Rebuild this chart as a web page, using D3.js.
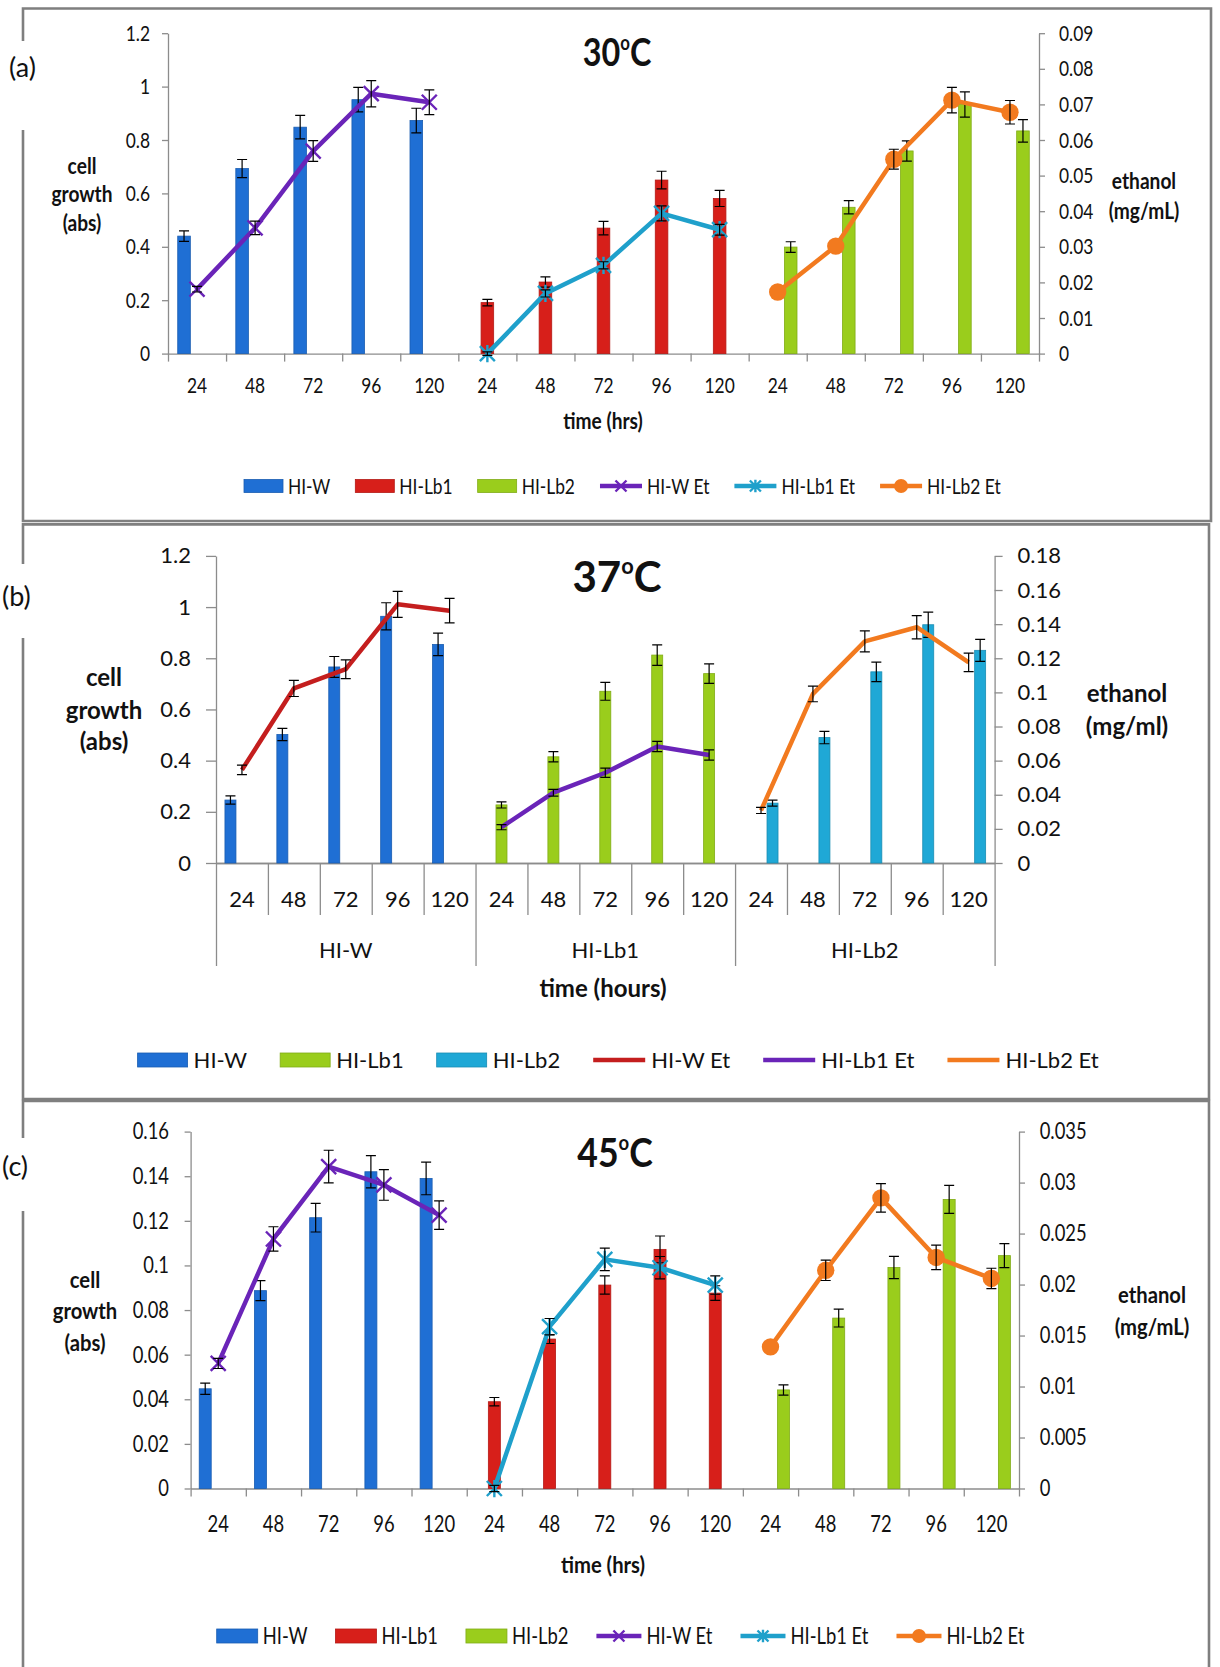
<!DOCTYPE html>
<html>
<head>
<meta charset="utf-8">
<title>Cell growth and ethanol at 30, 37 and 45 C</title>
<style>
  body { margin: 0; background: #fff; }
  svg { display: block; background: #fff; }
  .axis path, .axis line { stroke: #8c8c8c; stroke-width: 1.3; }
  .axis text { fill: #111; }
  .err { stroke: #000; stroke-width: 1.2; fill: none; }
</style>
</head>
<body>
<svg></svg>
<script src="https://d3js.org/d3.v7.min.js"></script>
<script>
const width = 1220, height = 1667;

// categories shared by the three panels
const hours = ["24", "48", "72", "96", "120"];
const strains = ["HI-W", "HI-Lb1", "HI-Lb2"];

// (a) 30 C : cell growth (abs) bars, ethanol (mg/mL) lines
const a30Bars   = [[0.44, 0.693, 0.848, 0.951, 0.873], [0.191, 0.268, 0.47, 0.65, 0.581], [0.399, 0.548, 0.759, 0.933, 0.834]];
const a30BarErr = [[0.02, 0.034, 0.044, 0.046, 0.046], [0.012, 0.019, 0.025, 0.033, 0.03], [0.02, 0.025, 0.038, 0.047, 0.042]];
const a30Et     = [[0.0181, 0.0353, 0.0569, 0.073, 0.0706], [0, 0.0169, 0.0248, 0.0394, 0.0348], [0.0173, 0.0302, 0.0546, 0.0712, 0.0678]];
const a30EtErr  = [[0.0008, 0.0019, 0.0029, 0.0037, 0.0035], [0.0005, 0.001, 0.001, 0.0021, 0.0015], [0, 0, 0.0028, 0.0036, 0.0033]];
const a30LeftTicks = [0, 0.2, 0.4, 0.6, 0.8, 1, 1.2];
const a30LeftLabels = ["0", "0.2", "0.4", "0.6", "0.8", "1", "1.2"];
const a30RightTicks = [0, 0.01, 0.02, 0.03, 0.04, 0.05, 0.06, 0.07, 0.08, 0.09];
const a30RightLabels = ["0", "0.01", "0.02", "0.03", "0.04", "0.05", "0.06", "0.07", "0.08", "0.09"];

// (b) 37 C
const b37Bars   = [[0.246, 0.502, 0.766, 0.964, 0.854], [0.227, 0.415, 0.671, 0.8125, 0.74], [0.234, 0.49, 0.747, 0.931, 0.831]];
const b37BarErr = [[0.016, 0.024, 0.041, 0.053, 0.044], [0.012, 0.02, 0.035, 0.04, 0.038], [0.012, 0.024, 0.038, 0.049, 0.043]];
const b37Et     = [[0.0546, 0.1023, 0.1136, 0.1516, 0.1479], [0.021, 0.0412, 0.0529, 0.0683, 0.0633], [0.0308, 0.0991, 0.1299, 0.1382, 0.1176]];
const b37EtErr  = [[0.0028, 0.0047, 0.0055, 0.0076, 0.0072], [0.0015, 0.002, 0.0027, 0.003, 0.003], [0.0018, 0.0046, 0.0061, 0.0068, 0.0054]];
const b37LeftTicks = [0, 0.2, 0.4, 0.6, 0.8, 1, 1.2];
const b37LeftLabels = ["0", "0.2", "0.4", "0.6", "0.8", "1", "1.2"];
const b37RightTicks = [0, 0.02, 0.04, 0.06, 0.08, 0.1, 0.12, 0.14, 0.16, 0.18];
const b37RightLabels = ["0", "0.02", "0.04", "0.06", "0.08", "0.1", "0.12", "0.14", "0.16", "0.18"];

// (c) 45 C
const c45Bars   = [[0.0447, 0.0887, 0.1214, 0.142, 0.139], [0.0389, 0.067, 0.0912, 0.1072, 0.0876], [0.0442, 0.0764, 0.0991, 0.1296, 0.1044]];
const c45BarErr = [[0.0025, 0.0045, 0.0064, 0.0072, 0.0073], [0.0019, 0.002, 0.0041, 0.006, 0.0033], [0.0023, 0.004, 0.005, 0.0063, 0.0054]];
const c45Et     = [[0.01227, 0.02447, 0.03157, 0.02977, 0.02681], [0, 0.01587, 0.02247, 0.02165, 0.01995], [0.01389, 0.0214, 0.0285, 0.02266, 0.0206]];
const c45EtErr  = [[0.0005, 0.0012, 0.0016, 0.0015, 0.0014], [0.0003, 0.0008, 0.0011, 0.0011, 0.0009], [0, 0.001, 0.0014, 0.0012, 0.001]];
const c45LeftTicks = [0, 0.02, 0.04, 0.06, 0.08, 0.1, 0.12, 0.14, 0.16];
const c45LeftLabels = ["0", "0.02", "0.04", "0.06", "0.08", "0.1", "0.12", "0.14", "0.16"];
const c45RightTicks = [0, 0.005, 0.01, 0.015, 0.02, 0.025, 0.03, 0.035];
const c45RightLabels = ["0", "0.005", "0.01", "0.015", "0.02", "0.025", "0.03", "0.035"];

// colours
const blue = "#1f6fd4", red = "#d71f1a", green = "#9acd1c", cyanBar = "#1fa8d6";
const purple = "#6a24b8", cyanLine = "#1fa0cb", orange = "#f27a1f", redLine = "#c41e1e";

const font = "Lato, 'Open Sans', sans-serif";

const svg = d3.select("svg").attr("width", width).attr("height", height);

const panels = [
    {
        label: "(a)", temp: "30", bars: a30Bars, barErr: a30BarErr, et: a30Et, etErr: a30EtErr,
        leftMax: 1.2, leftTicks: a30LeftTicks, leftLabels: a30LeftLabels,
        rightMax: 0.09, rightTicks: a30RightTicks, rightLabels: a30RightLabels,
        barColors: [blue, red, green], lineColors: [purple, cyanLine, orange], markers: ["x", "star", "circle"],
        fs: 22, titleFs: 39, axisFs: 22, sq: 0.79, sqBold: 0.87, sqTitle: 0.83,
        left: 168, right: 1039, top: 33.2, bottom: 353.6, slot: 13, barW: 12.6,
        tickL: 6, padL: 12, tickR: 6, padR: 14, xTick: 8,
        xLabelY: 385, xTitle: "time (hrs)", xTitleX: 603, xTitleY: 421,
        titleX: 617, titleY: 66,
        yTitleX: 82, yTitleY: [166, 194.5, 223], rTitle: ["ethanol", "(mg/mL)"], rTitleX: 1144, rTitleY: [181, 211],
        legY: 486, legX: 244, legRectW: 39, legRectH: 13, legLineW: 42, legGap: 5, legItemGap: 25, legFs: 22,
        box: [23, 8.5, 1211, 521], gap: [41, 130], labelX: 9, labelY: 68
    },
    {
        label: "(b)", temp: "37", bars: b37Bars, barErr: b37BarErr, et: b37Et, etErr: b37EtErr,
        leftMax: 1.2, leftTicks: b37LeftTicks, leftLabels: b37LeftLabels,
        rightMax: 0.18, rightTicks: b37RightTicks, rightLabels: b37RightLabels,
        barColors: [blue, green, cyanBar], lineColors: [redLine, purple, orange], markers: [null, null, null],
        fs: 22, titleFs: 42, axisFs: 24, sq: 1, sqBold: 1, sqTitle: 1, grouped: true,
        left: 216, right: 994.6, top: 555.9, bottom: 863, slot: 11.5, barW: 11,
        tickL: 10, padL: 15, tickR: 8, padR: 15,
        xLabelY: 899, innerDrop: 52, groupDrop: 103, groupLabelY: 950,
        xTitle: "time (hours)", xTitleX: 603, xTitleY: 989,
        titleX: 617, titleY: 592,
        yTitleX: 104, yTitleY: [678, 710.5, 742], rTitle: ["ethanol", "(mg/ml)"], rTitleX: 1127, rTitleY: [694, 727],
        legY: 1060, legX: 137.6, legRectW: 50, legRectH: 14, legLineW: 52, legGap: 6, legItemGap: 33, legFs: 22,
        box: [23, 524.4, 1209, 1099], gap: [564, 638], labelX: 2, labelY: 597
    },
    {
        label: "(c)", temp: "45", bars: c45Bars, barErr: c45BarErr, et: c45Et, etErr: c45EtErr,
        leftMax: 0.16, leftTicks: c45LeftTicks, leftLabels: c45LeftLabels,
        rightMax: 0.035, rightTicks: c45RightTicks, rightLabels: c45RightLabels,
        barColors: [blue, red, green], lineColors: [purple, cyanLine, orange], markers: ["x", "star", "circle"],
        fs: 23, titleFs: 40, axisFs: 23, sq: 0.8, sqBold: 0.88, sqTitle: 0.89,
        left: 190.6, right: 1019, top: 1131.6, bottom: 1488.5, slot: 13, barW: 12,
        tickL: 6, padL: 15.6, tickR: 6, padR: 14.7, xTick: 8,
        xLabelY: 1524, xTitle: "time (hrs)", xTitleX: 603, xTitleY: 1565,
        titleX: 615, titleY: 1167,
        yTitleX: 85, yTitleY: [1279.5, 1311, 1343], rTitle: ["ethanol", "(mg/mL)"], rTitleX: 1152, rTitleY: [1295, 1327],
        legY: 1636, legX: 216.7, legRectW: 41, legRectH: 14, legLineW: 45, legGap: 5, legItemGap: 28, legFs: 23,
        box: [23, 1101, 1209, 1700], gap: [1138, 1211], labelX: 2, labelY: 1167
    }
];

// narrow the glyphs of a text selection by factor k, keeping its anchor point
function squeeze(sel, k) {
    if (k === 1) return;
    sel.each(function() {
        const x0 = +this.getAttribute("x") || 0;
        this.setAttribute("x", 0);
        this.setAttribute("transform", `translate(${x0},0) scale(${k},1)`);
    });
}

// draw one of the marker shapes centred on 0,0
function marker(sel, type, color, s) {
    if (type === "circle") {
        sel.append("circle").attr("r", s).attr("fill", color);
    } else if (type === "x" || type === "star") {
        let d = `M${-s},${-s}L${s},${s}M${-s},${s}L${s},${-s}`;
        if (type === "star") d += `M0,${-s * 1.15}L0,${s * 1.15}`;
        sel.append("path").attr("d", d).attr("stroke", color).attr("stroke-width", 2.4).attr("fill", "none");
    }
}

function drawPanel(p) {
    const g = svg.append("g").style("font-family", font);

    // frame around the panel, left edge broken for the letter
    const [bx0, by0, bx1, by1] = p.box;
    g.append("path")
        .attr("d", `M${bx0},${p.gap[1]}L${bx0},${by1}L${bx1},${by1}L${bx1},${by0}L${bx0},${by0}L${bx0},${p.gap[0]}`)
        .attr("fill", "none").attr("stroke", "#7f7f7f").attr("stroke-width", 2.6);
    g.append("text").attr("x", p.labelX).attr("y", p.labelY).attr("dy", "0.35em")
        .style("font-size", "27px").attr("fill", "#111").text(p.label);

    // scales
    const x = d3.scaleBand().domain(d3.range(15)).range([p.left, p.right]);
    const bw = x.bandwidth();
    const xs = d3.scaleBand().domain([0, 1, 2]).range([bw / 2 - 1.5 * p.slot, bw / 2 + 1.5 * p.slot]);
    const xEdge = d3.scaleLinear().domain([0, 15]).range([p.left, p.right]);
    const yL = d3.scaleLinear().domain([0, p.leftMax]).range([p.bottom, p.top]);
    const yR = d3.scaleLinear().domain([0, p.rightMax]).range([p.bottom, p.top]);

    // flatten into rows
    const barRows = [];
    p.bars.forEach((vals, s) => vals.forEach((v, h) =>
        barRows.push({ s: s, cat: s * 5 + h, v: v, e: p.barErr[s][h] })));
    const lineRows = p.et.map((vals, s) => vals.map((v, h) =>
        ({ s: s, cat: s * 5 + h, v: v, e: p.etErr[s][h] })));

    // axes
    const axL = g.append("g").attr("class", "axis")
        .attr("transform", `translate(${p.left},0)`)
        .call(d3.axisLeft(yL).tickValues(p.leftTicks).tickFormat((d, i) => p.leftLabels[i])
            .tickSize(p.tickL).tickSizeOuter(0).tickPadding(p.padL));
    const axR = g.append("g").attr("class", "axis")
        .attr("transform", `translate(${p.right},0)`)
        .call(d3.axisRight(yR).tickValues(p.rightTicks).tickFormat((d, i) => p.rightLabels[i])
            .tickSize(p.tickR).tickSizeOuter(0).tickPadding(p.padR));
    [axL, axR].forEach(a => {
        a.attr("font-family", font).attr("font-size", p.fs);
        squeeze(a.selectAll("text"), p.sq);
    });

    if (!p.grouped) {
        g.append("g").attr("class", "axis")
            .attr("transform", `translate(0,${p.bottom})`)
            .call(d3.axisBottom(xEdge).tickValues(d3.range(16)).tickFormat("").tickSize(p.xTick).tickSizeOuter(0));
    } else {
        g.append("g").attr("class", "axis")
            .attr("transform", `translate(0,${p.bottom})`)
            .call(d3.axisBottom(xEdge).tickValues([1, 2, 3, 4, 6, 7, 8, 9, 11, 12, 13, 14]).tickFormat("")
                .tickSize(p.innerDrop).tickSizeOuter(0));
        g.append("g").attr("class", "axis")
            .attr("transform", `translate(0,${p.bottom})`)
            .call(d3.axisBottom(xEdge).tickValues([0, 5, 10, 15]).tickFormat("")
                .tickSize(p.groupDrop).tickSizeOuter(0));
        g.selectAll(".grp").data(strains).join("text")
            .attr("class", "grp")
            .attr("x", (d, i) => (xEdge(i * 5) + xEdge(i * 5 + 5)) / 2)
            .attr("y", p.groupLabelY).attr("dy", "0.35em")
            .attr("text-anchor", "middle")
            .style("font-size", p.fs + "px").attr("fill", "#111")
            .text(d => d);
    }

    // hour labels under each category
    const hr = g.selectAll(".hr").data(d3.range(15)).join("text")
        .attr("class", "hr")
        .attr("x", d => x(d) + bw / 2).attr("y", p.xLabelY).attr("dy", "0.35em")
        .attr("text-anchor", "middle")
        .style("font-size", p.fs + "px").attr("fill", "#111")
        .text(d => hours[d % 5]);
    squeeze(hr, p.sq);

    // bars
    g.selectAll(".bar").data(barRows).join("rect")
        .attr("class", "bar")
        .attr("x", d => x(d.cat) + xs(d.s) + (xs.bandwidth() - p.barW) / 2)
        .attr("width", p.barW)
        .attr("y", d => yL(d.v))
        .attr("height", d => p.bottom - yL(d.v))
        .attr("fill", d => p.barColors[d.s])
        .attr("stroke", d => d3.color(p.barColors[d.s]).darker(0.5))
        .attr("stroke-width", 0.8);

    // bar error bars
    g.selectAll(".be").data(barRows).join("path")
        .attr("class", "err be")
        .attr("d", d => {
            const cx = x(d.cat) + xs(d.s) + xs.bandwidth() / 2, lo = yL(d.v - d.e), hi = yL(d.v + d.e);
            return `M${cx},${lo}V${hi}M${cx - 5},${lo}H${cx + 5}M${cx - 5},${hi}H${cx + 5}`;
        });

    // ethanol lines
    const line = d3.line().x(d => x(d.cat) + bw / 2).y(d => yR(d.v));
    g.selectAll(".et").data(lineRows).join("path")
        .attr("class", "et")
        .attr("d", line)
        .attr("fill", "none")
        .attr("stroke", (d, i) => p.lineColors[i])
        .attr("stroke-width", 4.5)
        .attr("stroke-linejoin", "round");

    lineRows.forEach((rows, s) => {
        const mk = g.selectAll(null).data(rows).join("g")
            .attr("transform", d => `translate(${x(d.cat) + bw / 2},${yR(d.v)})`);
        if (p.markers[s]) marker(mk, p.markers[s], p.lineColors[s], p.markers[s] === "circle" ? 8.7 : 7.5);
        g.selectAll(null).data(rows.filter(d => d.e > 0)).join("path")
            .attr("class", "err")
            .attr("d", d => {
                const cx = x(d.cat) + bw / 2, lo = yR(d.v - d.e), hi = yR(d.v + d.e);
                return `M${cx},${lo}V${hi}M${cx - 5},${lo}H${cx + 5}M${cx - 5},${hi}H${cx + 5}`;
            });
    });

    // title "30oC" built from three pieces so the small raised o sits between them
    const parts = [
        { txt: p.temp, fs: p.titleFs, dy: 0 },
        { txt: "o", fs: p.titleFs * 0.52, dy: -p.titleFs * 0.42 },
        { txt: "C", fs: p.titleFs, dy: 0 }
    ];
    const pieces = parts.map(pt => g.append("text")
        .attr("y", p.titleY + pt.dy).attr("fill", "#111")
        .style("font-weight", "bold").style("font-size", pt.fs + "px")
        .text(pt.txt));
    const widths = pieces.map(s => s.node().getComputedTextLength() * p.sqTitle);
    let tx0 = p.titleX - d3.sum(widths) / 2;
    pieces.forEach((s, i) => {
        s.attr("x", tx0);
        squeeze(s, p.sqTitle);
        tx0 += widths[i];
    });

    // axis titles
    const ytl = ["cell", "growth", "(abs)"];
    const tl = g.selectAll(".ytl").data(ytl).join("text")
        .attr("class", "ytl")
        .attr("x", p.yTitleX).attr("y", (d, i) => p.yTitleY[i]).attr("dy", "0.35em")
        .attr("text-anchor", "middle").attr("fill", "#111")
        .style("font-weight", "bold").style("font-size", p.axisFs + "px")
        .text(d => d);
    const tr = g.selectAll(".ytr").data(p.rTitle).join("text")
        .attr("class", "ytr")
        .attr("x", p.rTitleX).attr("y", (d, i) => p.rTitleY[i]).attr("dy", "0.35em")
        .attr("text-anchor", "middle").attr("fill", "#111")
        .style("font-weight", "bold").style("font-size", p.axisFs + "px")
        .text(d => d);
    const xt = g.append("text").attr("x", p.xTitleX).attr("y", p.xTitleY).attr("dy", "0.35em")
        .attr("text-anchor", "middle").attr("fill", "#111")
        .style("font-weight", "bold").style("font-size", p.axisFs + "px")
        .text(p.xTitle);
    [tl, tr, xt].forEach(s => squeeze(s, p.sqBold));

    // legend, laid out left to right
    const items = strains.map((s, i) => ({ name: s, kind: "bar", color: p.barColors[i] }))
        .concat(strains.map((s, i) => ({ name: s + " Et", kind: "line", color: p.lineColors[i], mk: p.markers[i] })));
    let lx = p.legX;
    items.forEach(it => {
        const symW = it.kind === "bar" ? p.legRectW : p.legLineW;
        if (it.kind === "bar") {
            g.append("rect").attr("x", lx).attr("y", p.legY - p.legRectH / 2)
                .attr("width", p.legRectW).attr("height", p.legRectH)
                .attr("fill", it.color).attr("stroke", d3.color(it.color).darker(0.5)).attr("stroke-width", 0.8);
        } else {
            g.append("line").attr("x1", lx).attr("x2", lx + p.legLineW)
                .attr("y1", p.legY).attr("y2", p.legY)
                .attr("stroke", it.color).attr("stroke-width", 4.5);
            if (it.mk) {
                const m = g.append("g").attr("transform", `translate(${lx + p.legLineW / 2},${p.legY})`);
                marker(m, it.mk, it.color, it.mk === "circle" ? 7 : 5.5);
            }
        }
        const lt = g.append("text").attr("x", lx + symW + p.legGap).attr("y", p.legY).attr("dy", "0.35em")
            .style("font-size", p.legFs + "px").attr("fill", "#111")
            .text(it.name);
        const w = lt.node().getComputedTextLength() * p.sq;
        squeeze(lt, p.sq);
        lx = lx + symW + p.legGap + w + p.legItemGap;
    });
}

panels.forEach(drawPanel);
</script>
</body>
</html>
